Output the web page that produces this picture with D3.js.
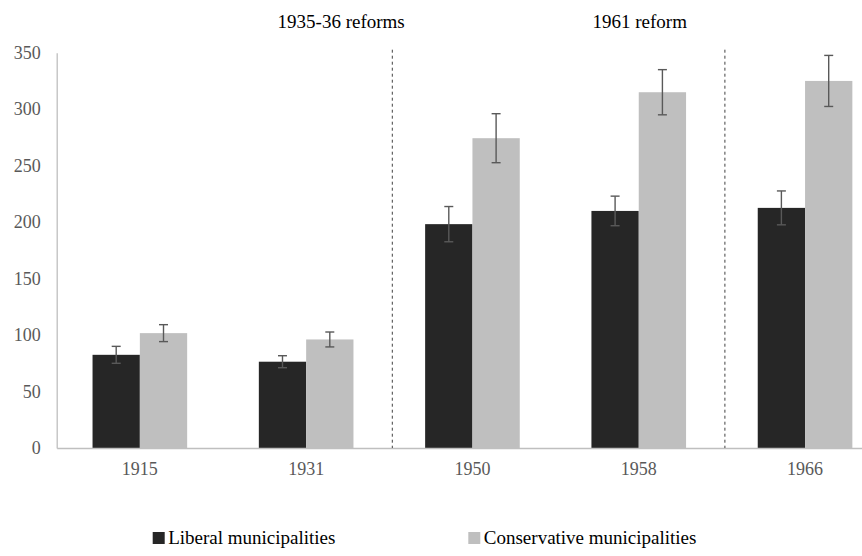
<!DOCTYPE html>
<html>
<head>
<meta charset="utf-8">
<script src="https://cdn.jsdelivr.net/npm/d3@7"></script>
<style>
  body { margin: 0; background: #fff; }
  svg text { font-family: "Times New Roman", "Liberation Serif", Tinos, "DejaVu Serif", serif; }
</style>
</head>
<body>
<div id="main"></div>
<script>
const years = ["1915", "1931", "1950", "1958", "1966"];
const seriesNames = ["Liberal municipalities", "Conservative municipalities"];
const liberal = [82.5, 76.4, 198.2, 209.9, 212.6];
const liberalErr = [7.5, 5.3, 15.6, 13.1, 15.0];
const conservative = [101.7, 96.1, 274.3, 315.0, 325.0];
const conservativeErr = [7.5, 6.6, 21.7, 20.0, 22.6];
const yTicks = [0, 50, 100, 150, 200, 250, 300, 350];
const reforms = [
  {label: "1935-36 reforms", after: "1931", labelAt: "1931", shift: 35},
  {label: "1961 reform", after: "1958", labelAt: "1958", shift: 1}
];

const ctx = {
  WIDTH: 862,
  HEIGHT: 556,
  left: 56.7,
  right: 888.2, // the plot runs past the right edge, as in the original
  top: 52.7,
  bottom: 448
};

const colors = ["#262626", "#bfbfbf"];

function styleAxis(g) {
  g.attr("font-family", null);
  g.select(".domain").attr("stroke", "#bfbfbf").attr("stroke-width", 1.3);
  g.selectAll("text")
      .attr("fill", "#595959")
      .style("font-size", "18px");
}

function createViz() {
  const svg = d3.select("#main").append("svg")
      .attr("width", ctx.WIDTH)
      .attr("height", ctx.HEIGHT);

  const x = d3.scaleBand()
      .domain(years)
      .range([ctx.left, ctx.right])
      .paddingInner(0.431)
      .paddingOuter(0.2155);

  const xSub = d3.scaleBand()
      .domain(seriesNames)
      .range([0, x.bandwidth()]);

  const y = d3.scaleLinear()
      .domain([0, 350])
      .range([ctx.bottom, ctx.top]);

  const rows = [];
  years.forEach((yr, i) => {
    rows.push({year: yr, s: 0, v: liberal[i], e: liberalErr[i]});
    rows.push({year: yr, s: 1, v: conservative[i], e: conservativeErr[i]});
  });

  // y axis
  svg.append("g")
      .attr("transform", `translate(${ctx.left},0)`)
      .call(d3.axisLeft(y).tickValues(yTicks).tickSize(0).tickPadding(16))
      .call(styleAxis);

  // bars
  svg.append("g").selectAll("rect")
      .data(rows)
      .enter().append("rect")
      .attr("x", d => x(d.year) + xSub(seriesNames[d.s]))
      .attr("y", d => y(d.v))
      .attr("width", xSub.bandwidth())
      .attr("height", d => y(0) - y(d.v))
      .attr("fill", d => colors[d.s]);

  // error bars
  const err = svg.append("g")
      .attr("stroke", "#595959")
      .attr("stroke-width", 1.4)
      .selectAll("g")
      .data(rows)
      .enter().append("g")
      .attr("transform", d => `translate(${x(d.year) + xSub(seriesNames[d.s]) + xSub.bandwidth() / 2},0)`);
  err.append("line")
      .attr("y1", d => y(d.v + d.e))
      .attr("y2", d => y(d.v - d.e));
  err.append("line")
      .attr("x1", -4.5).attr("x2", 4.5)
      .attr("y1", d => y(d.v + d.e)).attr("y2", d => y(d.v + d.e));
  err.append("line")
      .attr("x1", -4.5).attr("x2", 4.5)
      .attr("y1", d => y(d.v - d.e)).attr("y2", d => y(d.v - d.e));

  // x axis
  svg.append("g")
      .attr("transform", `translate(0,${ctx.bottom})`)
      .call(d3.axisBottom(x).tickSize(0).tickPadding(14).tickSizeOuter(0))
      .call(styleAxis);

  // reform dividers and their labels
  const step = x.step();
  reforms.forEach(r => {
    const lx = x(r.after) + x.bandwidth() + (step - x.bandwidth()) / 2 + 3;
    svg.append("line")
        .attr("x1", lx).attr("x2", lx)
        .attr("y1", ctx.top - 3).attr("y2", ctx.bottom)
        .attr("stroke", "#404040")
        .attr("stroke-width", 1)
        .attr("stroke-dasharray", "3,3");
    svg.append("text")
        .attr("x", x(r.labelAt) + x.bandwidth() / 2 + r.shift)
        .attr("y", 28)
        .attr("text-anchor", "middle")
        .style("font-size", "19px")
        .attr("fill", "#000")
        .text(r.label);
  });

  // legend
  const legendX = [152.7, 468.3];
  const legend = svg.append("g").selectAll("g")
      .data(seriesNames)
      .enter().append("g")
      .attr("transform", (d, i) => `translate(${legendX[i]},532)`);
  legend.append("rect")
      .attr("width", 12).attr("height", 12)
      .attr("fill", (d, i) => colors[i]);
  legend.append("text")
      .attr("x", 15.5)
      .attr("y", 12)
      .style("font-size", "19px")
      .attr("fill", "#000")
      .text(d => d);
}

createViz();
</script>
</body>
</html>
